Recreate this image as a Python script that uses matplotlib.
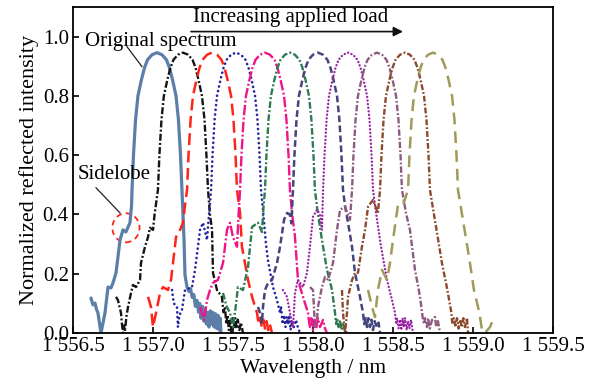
import matplotlib
matplotlib.use("Agg")
import matplotlib.pyplot as plt
from matplotlib.patches import Ellipse

plt.rcParams['font.family'] = ['Liberation Serif', 'DejaVu Serif']
plt.rcParams['lines.scale_dashes'] = False

# ---- data (wavelength nm, normalized intensity) ----
wl1 = [1556.6125, 1556.625, 1556.6375, 1556.647, 1556.656, 1556.675, 1556.69, 1556.70, 1556.719, 1556.7375,
       1556.75, 1556.769, 1556.794, 1556.8125, 1556.831, 1556.856, 1556.866,
       1556.869, 1556.878, 1556.891, 1556.906, 1556.928, 1556.947, 1556.966, 1556.994, 1557.025,
       1557.056, 1557.084, 1557.103, 1557.122, 1557.144, 1557.159, 1557.172, 1557.181, 1557.194, 1557.2,
       1557.2125, 1557.225, 1557.235, 1557.245, 1557.255, 1557.265, 1557.275, 1557.285, 1557.292, 1557.30,
       1557.31, 1557.318, 1557.326, 1557.334, 1557.342, 1557.35, 1557.358, 1557.366, 1557.374, 1557.382,
       1557.39, 1557.398, 1557.406, 1557.414, 1557.42, 1557.425]
in1 = [0.118, 0.095, 0.101, 0.08, 0.068, 0.0, 0.04, 0.068, 0.155, 0.152,
       0.169, 0.203, 0.314, 0.348, 0.341, 0.372, 0.43,
       0.483, 0.60, 0.72, 0.80, 0.855, 0.895, 0.922, 0.939, 0.946,
       0.939, 0.922, 0.895, 0.855, 0.80, 0.72, 0.60, 0.483, 0.314, 0.196,
       0.155, 0.14, 0.15, 0.12, 0.13, 0.09, 0.11, 0.07, 0.10, 0.05,
       0.09, 0.04, 0.08, 0.03, 0.07, 0.02, 0.075, 0.03, 0.07, 0.02,
       0.065, 0.015, 0.06, 0.01, 0.05, 0.0]

wl2 = [1556.769, 1556.781, 1556.79, 1556.8, 1556.806, 1556.8125, 1556.819, 1556.825, 1556.835, 1556.844,
       1556.8625, 1556.875, 1556.894, 1556.919, 1556.925, 1556.95, 1556.969, 1556.981, 1557.0, 1557.01,
       1557.031, 1557.04, 1557.053, 1557.068, 1557.09, 1557.109, 1557.128, 1557.156, 1557.1875,
       1557.219, 1557.247, 1557.266, 1557.284, 1557.306, 1557.322, 1557.334, 1557.344, 1557.356,
       1557.369, 1557.375, 1557.40, 1557.431, 1557.44, 1557.45, 1557.458, 1557.466, 1557.474, 1557.482,
       1557.49, 1557.498, 1557.506, 1557.514, 1557.522, 1557.53, 1557.54, 1557.55, 1557.5625]
in2 = [0.122, 0.111, 0.09, 0.068, 0.03, 0.0, 0.025, 0.01, 0.06, 0.088,
       0.135, 0.162, 0.155, 0.179, 0.236, 0.291, 0.324, 0.355, 0.348, 0.40,
       0.483, 0.60, 0.72, 0.80, 0.855, 0.895, 0.922, 0.939, 0.946,
       0.939, 0.922, 0.895, 0.855, 0.80, 0.72, 0.60, 0.483, 0.40,
       0.348, 0.203, 0.145, 0.122, 0.07, 0.088, 0.03, 0.06, 0.01, 0.045,
       0.005, 0.05, 0.02, 0.05, 0.015, 0.045, 0.01, 0.035, 0.0]

wl3 = [1556.969, 1556.9875, 1557.0, 1557.019, 1557.044, 1557.0625, 1557.094, 1557.1125, 1557.125, 1557.144,
       1557.169, 1557.1875, 1557.2,
       1557.213, 1557.222, 1557.235, 1557.25, 1557.272, 1557.291, 1557.31, 1557.338, 1557.369,
       1557.4, 1557.428, 1557.447, 1557.466, 1557.488, 1557.503, 1557.516, 1557.525,
       1557.544, 1557.556, 1557.594, 1557.619, 1557.65, 1557.66, 1557.669, 1557.68, 1557.69, 1557.7,
       1557.71, 1557.72, 1557.73, 1557.744]
in3 = [0.122, 0.088, 0.02, 0.068, 0.135, 0.155, 0.145, 0.179, 0.236, 0.324,
       0.348, 0.372, 0.43,
       0.483, 0.60, 0.72, 0.80, 0.855, 0.895, 0.922, 0.939, 0.946,
       0.939, 0.922, 0.895, 0.855, 0.80, 0.72, 0.60, 0.483,
       0.405, 0.291, 0.179, 0.122, 0.068, 0.03, 0.05, 0.02, 0.045, 0.015,
       0.04, 0.01, 0.03, 0.0]

wl4 = [1557.119, 1557.13, 1557.15, 1557.156, 1557.165, 1557.181, 1557.2, 1557.244, 1557.2625, 1557.281,
       1557.294, 1557.3125, 1557.3375, 1557.35,
       1557.363, 1557.372, 1557.385, 1557.40, 1557.422, 1557.441, 1557.46, 1557.488, 1557.519,
       1557.55, 1557.578, 1557.597, 1557.616, 1557.638, 1557.653, 1557.666, 1557.675,
       1557.69, 1557.706, 1557.72, 1557.75, 1557.775, 1557.794, 1557.80, 1557.81, 1557.819, 1557.828,
       1557.836, 1557.844, 1557.852, 1557.86, 1557.869, 1557.88, 1557.894, 1557.905, 1557.919]
in4 = [0.145, 0.10, 0.088, 0.02, 0.06, 0.078, 0.145, 0.155, 0.213, 0.291,
       0.348, 0.372, 0.314, 0.40,
       0.483, 0.60, 0.72, 0.80, 0.855, 0.895, 0.922, 0.939, 0.946,
       0.939, 0.922, 0.895, 0.855, 0.80, 0.72, 0.60, 0.483,
       0.40, 0.30, 0.24, 0.155, 0.111, 0.068, 0.09, 0.03, 0.06, 0.02,
       0.055, 0.03, 0.06, 0.01, 0.04, 0.02, 0.044, 0.02, 0.0]

wl5 = [1557.294, 1557.319, 1557.3375, 1557.356, 1557.375, 1557.406, 1557.4375, 1557.4625, 1557.481, 1557.5,
       1557.525, 1557.535,
       1557.544, 1557.553, 1557.566, 1557.581, 1557.603, 1557.622, 1557.641, 1557.669, 1557.70,
       1557.731, 1557.759, 1557.778, 1557.797, 1557.819, 1557.834, 1557.847, 1557.856,
       1557.869, 1557.8875, 1557.906, 1557.9375, 1557.969, 1557.975, 1557.981, 1557.99, 1558.0, 1558.01,
       1558.02, 1558.03, 1558.044, 1558.0625, 1558.075, 1558.0875]
in5 = [0.088, 0.044, 0.111, 0.145, 0.169, 0.179, 0.236, 0.348, 0.372, 0.324,
       0.291, 0.40,
       0.483, 0.60, 0.72, 0.80, 0.855, 0.895, 0.922, 0.939, 0.946,
       0.939, 0.922, 0.895, 0.855, 0.80, 0.72, 0.60, 0.483,
       0.405, 0.324, 0.179, 0.122, 0.068, 0.04, 0.02, 0.05, 0.01, 0.045,
       0.015, 0.05, 0.02, 0.044, 0.015, 0.0]

wl6 = [1557.4375, 1557.46, 1557.481, 1557.5, 1557.515, 1557.531, 1557.5625, 1557.594, 1557.619, 1557.656,
       1557.681, 1557.69,
       1557.70, 1557.709, 1557.722, 1557.737, 1557.759, 1557.778, 1557.797, 1557.825, 1557.856,
       1557.887, 1557.915, 1557.934, 1557.953, 1557.975, 1557.99, 1558.003, 1558.012,
       1558.03, 1558.056, 1558.0875, 1558.119, 1558.1375, 1558.145, 1558.15, 1558.16, 1558.169, 1558.178,
       1558.1875, 1558.2, 1558.2125]
in6 = [0.135, 0.09, 0.068, 0.02, 0.08, 0.155, 0.145, 0.223, 0.358, 0.372,
       0.341, 0.42,
       0.483, 0.60, 0.72, 0.80, 0.855, 0.895, 0.922, 0.939, 0.946,
       0.939, 0.922, 0.895, 0.855, 0.80, 0.72, 0.60, 0.483,
       0.405, 0.314, 0.213, 0.145, 0.068, 0.03, 0.05, 0.02, 0.044, 0.01,
       0.03, 0.01, 0.0]

wl7 = [1557.656, 1557.669, 1557.681, 1557.6875, 1557.7, 1557.719, 1557.744, 1557.775, 1557.794, 1557.819,
       1557.8375, 1557.855, 1557.865,
       1557.875, 1557.884, 1557.897, 1557.912, 1557.934, 1557.953, 1557.972, 1558.0, 1558.031,
       1558.062, 1558.09, 1558.109, 1558.128, 1558.15, 1558.165, 1558.178, 1558.1875,
       1558.2, 1558.219, 1558.244, 1558.2625, 1558.294, 1558.3125, 1558.32, 1558.33, 1558.3375, 1558.346,
       1558.356, 1558.365, 1558.375, 1558.385, 1558.4, 1558.41, 1558.419]
in7 = [0.088, 0.068, 0.034, 0.088, 0.145, 0.169, 0.179, 0.236, 0.291, 0.382,
       0.405, 0.40, 0.37,
       0.483, 0.60, 0.72, 0.80, 0.855, 0.895, 0.922, 0.939, 0.946,
       0.939, 0.922, 0.895, 0.855, 0.80, 0.72, 0.60, 0.483,
       0.43, 0.372, 0.291, 0.203, 0.122, 0.068, 0.03, 0.05, 0.02, 0.05,
       0.02, 0.045, 0.01, 0.04, 0.02, 0.035, 0.0]

wl8 = [1557.8125, 1557.8375, 1557.856, 1557.869, 1557.875, 1557.8875, 1557.906, 1557.9375, 1557.9625, 1557.981,
       1558.0, 1558.025, 1558.044, 1558.056,
       1558.063, 1558.072, 1558.085, 1558.10, 1558.122, 1558.141, 1558.16, 1558.188, 1558.219,
       1558.25, 1558.278, 1558.297, 1558.316, 1558.338, 1558.353, 1558.366, 1558.375,
       1558.394, 1558.425, 1558.4625, 1558.494, 1558.5125, 1558.52, 1558.525, 1558.535, 1558.544, 1558.552,
       1558.56, 1558.568, 1558.575, 1558.585, 1558.594, 1558.603, 1558.6125, 1558.622, 1558.631]
in8 = [0.145, 0.122, 0.068, 0.034, 0.02, 0.135, 0.179, 0.155, 0.203, 0.291,
       0.392, 0.416, 0.399, 0.348,
       0.483, 0.60, 0.72, 0.80, 0.855, 0.895, 0.922, 0.939, 0.946,
       0.939, 0.922, 0.895, 0.855, 0.80, 0.72, 0.60, 0.483,
       0.405, 0.291, 0.179, 0.111, 0.068, 0.03, 0.05, 0.015, 0.045, 0.01,
       0.05, 0.02, 0.051, 0.01, 0.04, 0.015, 0.044, 0.01, 0.0]

wl9 = [1557.981, 1558.0, 1558.0125, 1558.025, 1558.031, 1558.056, 1558.075, 1558.094, 1558.125, 1558.15,
       1558.169, 1558.2, 1558.219, 1558.231,
       1558.244, 1558.253, 1558.266, 1558.281, 1558.303, 1558.322, 1558.341, 1558.369, 1558.40,
       1558.431, 1558.459, 1558.478, 1558.497, 1558.519, 1558.534, 1558.547, 1558.556,
       1558.581, 1558.606, 1558.6375, 1558.669, 1558.6875, 1558.695, 1558.70, 1558.7125, 1558.72, 1558.73,
       1558.744, 1558.7625, 1558.77, 1558.781, 1558.794]
in9 = [0.155, 0.145, 0.02, 0.044, 0.088, 0.155, 0.189, 0.179, 0.236, 0.348,
       0.416, 0.426, 0.399, 0.382,
       0.483, 0.60, 0.72, 0.80, 0.855, 0.895, 0.922, 0.939, 0.946,
       0.939, 0.922, 0.895, 0.855, 0.80, 0.72, 0.60, 0.483,
       0.405, 0.348, 0.213, 0.122, 0.044, 0.03, 0.05, 0.02, 0.05, 0.015,
       0.044, 0.054, 0.02, 0.04, 0.0]

wl10 = [1558.181, 1558.1875, 1558.2, 1558.2125, 1558.219, 1558.244, 1558.2625, 1558.281, 1558.306, 1558.325,
        1558.344, 1558.375, 1558.406,
        1558.419, 1558.428, 1558.441, 1558.456, 1558.478, 1558.497, 1558.516, 1558.544, 1558.575,
        1558.606, 1558.634, 1558.653, 1558.672, 1558.694, 1558.709, 1558.722, 1558.731,
        1558.75, 1558.772, 1558.806, 1558.84, 1558.865, 1558.87, 1558.88, 1558.89, 1558.90, 1558.91,
        1558.92, 1558.93, 1558.94, 1558.95, 1558.9625, 1558.969]
in10 = [0.145, 0.068, 0.0, 0.068, 0.122, 0.179, 0.203, 0.203, 0.291, 0.348,
        0.426, 0.449, 0.405,
        0.483, 0.60, 0.72, 0.80, 0.855, 0.895, 0.922, 0.939, 0.946,
        0.939, 0.922, 0.895, 0.855, 0.80, 0.72, 0.60, 0.483,
        0.42, 0.348, 0.236, 0.145, 0.068, 0.035, 0.05, 0.02, 0.05, 0.015,
        0.045, 0.02, 0.05, 0.02, 0.051, 0.0]

wl11 = [1558.344, 1558.369, 1558.3875, 1558.406, 1558.431, 1558.4625, 1558.481, 1558.5, 1558.531, 1558.5625,
        1558.58,
        1558.594, 1558.603, 1558.616, 1558.631, 1558.653, 1558.672, 1558.691, 1558.719, 1558.75,
        1558.781, 1558.809, 1558.828, 1558.847, 1558.869, 1558.884, 1558.897, 1558.906,
        1558.94, 1558.975, 1559.006, 1559.04, 1559.056, 1559.075, 1559.106, 1559.125]
in11 = [0.145, 0.088, 0.054, 0.145, 0.213, 0.179, 0.236, 0.314, 0.432, 0.432,
        0.46,
        0.483, 0.60, 0.72, 0.80, 0.855, 0.895, 0.922, 0.939, 0.946,
        0.939, 0.922, 0.895, 0.855, 0.80, 0.72, 0.60, 0.483,
        0.372, 0.257, 0.145, 0.068, 0.01, 0.0, 0.02, 0.044]

x_ticks = [1556.5, 1557.0, 1557.5, 1558.0, 1558.5, 1559.0, 1559.5]
x_tick_labels = ["1 556.5", "1 557.0", "1 557.5", "1 558.0", "1 558.5", "1 559.0", "1 559.5"]
y_ticks = [0.0, 0.2, 0.4, 0.6, 0.8, 1.0]
y_tick_labels = ["0.0", "0.2", "0.4", "0.6", "0.8", "1.0"]

# (x, y, colour, dash pattern in points, linewidth, round caps)
series = [
    (wl1, in1, "#5b7fa8", None, 2.3, False),
    (wl2, in2, "#141414", (5.0, 1.6, 1.4, 1.6), 1.7, False),
    (wl3, in3, "#ff2418", (8.5, 4.0), 1.8, False),
    (wl4, in4, "#2424a0", (0.1, 3.3), 1.9, True),
    (wl5, in5, "#f0148a", (7.5, 1.7, 1.4, 1.7), 1.7, False),
    (wl6, in6, "#2f7a52", (4.8, 1.6, 1.4, 1.6), 1.7, False),
    (wl7, in7, "#45457e", (4.8, 2.4), 1.8, False),
    (wl8, in8, "#9a20a4", (0.1, 2.5), 1.7, True),
    (wl9, in9, "#8e5a80", (4.6, 1.5, 1.3, 1.5), 1.7, False),
    (wl10, in10, "#8c4a2c", (4.2, 1.5, 1.3, 1.5), 1.7, False),
    (wl11, in11, "#a09b58", (8.5, 5.0), 1.8, False),
]

fig = plt.figure(figsize=(5.9, 3.86), dpi=100)
ax = fig.add_axes([0.1237, 0.1373, 0.8136, 0.8446])

for wl, it, col, dash, lw, rnd in series:
    if dash is None:
        ax.plot(wl, it, color=col, lw=lw, solid_joinstyle='round', solid_capstyle='round')
    else:
        ax.plot(wl, it, color=col, lw=lw, dashes=dash,
                dash_capstyle='round' if rnd else 'butt')

ax.set_xlim(1556.5, 1559.5)
ax.set_ylim(0, 1.1)
ax.set_xticks(x_ticks)
ax.set_xticklabels(x_tick_labels)
ax.set_yticks(y_ticks)
ax.set_yticklabels(y_tick_labels)
ax.tick_params(direction='in', length=4, width=1.2, labelsize=15, pad=3)
for s in ax.spines.values():
    s.set_linewidth(1.3)
ax.set_xlabel("Wavelength / nm", fontsize=15.5, labelpad=2)
ax.set_ylabel("Normalized reflected intensity", fontsize=16, labelpad=3)

# annotations
ax.text(1557.86, 1.063, "Increasing applied load", fontsize=15, ha='center', va='center')
ax.annotate("", xy=(1558.58, 1.017), xytext=(1557.22, 1.017),
            arrowprops=dict(arrowstyle='-|>', color='#111111', lw=1.2, mutation_scale=14))
ax.text(1557.05, 0.985, "Original spectrum", fontsize=15, ha='center', va='center')
ax.plot([1556.8375, 1556.931], [0.966, 0.899], color='#222222', lw=0.9)
ax.text(1556.755, 0.534, "Sidelobe", fontsize=15, ha='center', va='center')
ax.plot([1556.644, 1556.794], [0.49, 0.405], color='#222222', lw=0.9)
ax.add_patch(Ellipse((1556.831, 0.355), 0.17, 0.098, fill=False, edgecolor='#ff2418',
                     lw=1.3, linestyle=(0, (4, 3))))

fig.savefig("out.png", dpi=100)
